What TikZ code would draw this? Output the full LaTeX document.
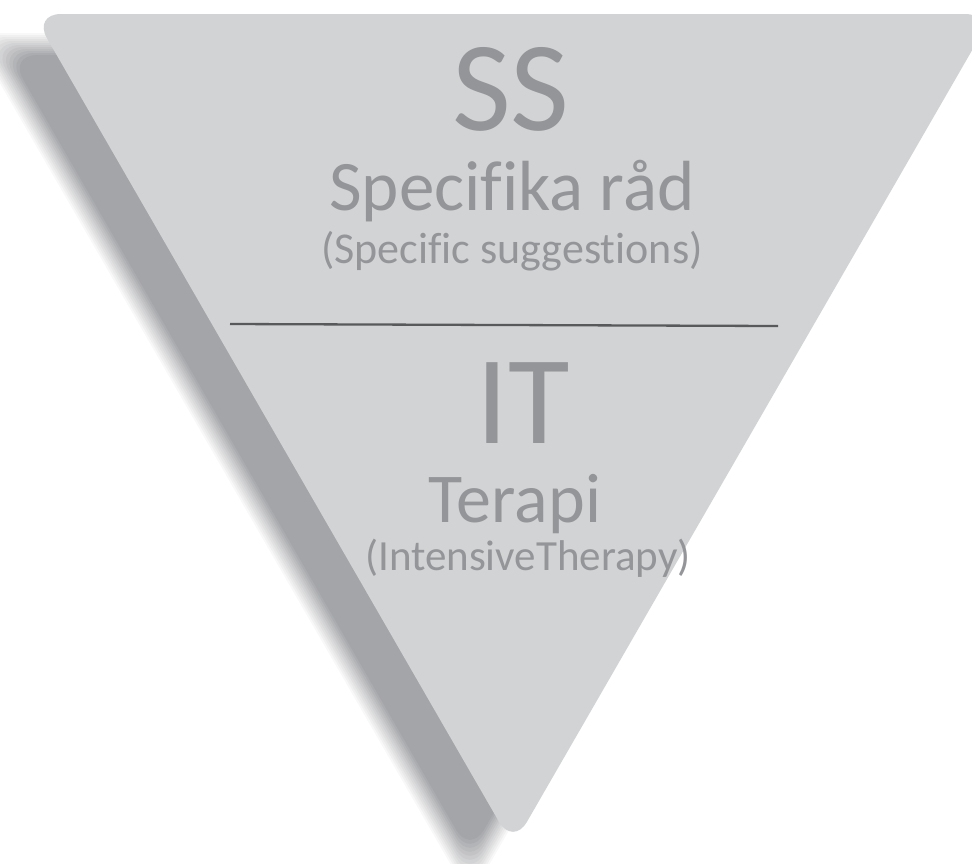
\documentclass[tikz,border=0pt]{standalone}
\usepackage{fontspec}
\setmainfont{Carlito}[Ligatures=NoCommon]
\definecolor{panel}{HTML}{D1D3D4}
\definecolor{dropgray}{HTML}{A4A5A8}
\definecolor{ink}{HTML}{939598}
\definecolor{rulegray}{HTML}{58595B}
\newcommand{\sz}[1]{\fontsize{#1}{#1}\selectfont}
\begin{document}
\begin{tikzpicture}[x=1pt,y=-1pt,
  lbl/.style={text=ink, anchor=base, inner sep=0pt},
  tri/.style={rounded corners=28pt}]
\useasboundingbox (0,0) rectangle (972,863);
\clip (0,0) rectangle (972,863);

% soft drop shadow: copies of the triangle scaled about its centroid,
% from 11pt outside to 11pt inside the edge, with opacities that add up
% to a linear ramp (the innermost copy is opaque)
\foreach \m in {1,...,12}{
  \pgfmathsetmacro{\off}{13-2*\m}
  \pgfmathsetmacro{\alp}{1/(13-\m)}
  \begin{scope}[shift={(470,321.3)}, scale={1+\off/277.3}]
    \fill[dropgray, opacity=\alp, tri] (-480,-277.3) -- (480,-277.3) -- (0,554.7) -- cycle;
  \end{scope}
}

% the inverted triangle
\fill[panel, tri] (33,14) -- (993,14) -- (513,846) -- cycle;

% upper level
\node[lbl, font=\sz{128}] (ss) at (511,130) {SS};
\node[lbl, font=\sz{71}] (ssname) at (512,210) {Specifika råd};
\node[lbl, font=\sz{44}] (ssen) at (512,263) {(Specific suggestions)};

% divider
\coordinate (divl) at (230,324);
\coordinate (divr) at (778,326);
\draw[rulegray, line width=2.3pt] (divl) -- (divr);

% lower level
\node[lbl, font=\sz{126}] (it) at (523,443) {IT};
\node[lbl, font=\sz{70}] (itname) at (515,522) {Terapi};
\node[lbl, font=\sz{43}] (iten) at (528,570) {(IntensiveTherapy)};
\end{tikzpicture}
\end{document}
